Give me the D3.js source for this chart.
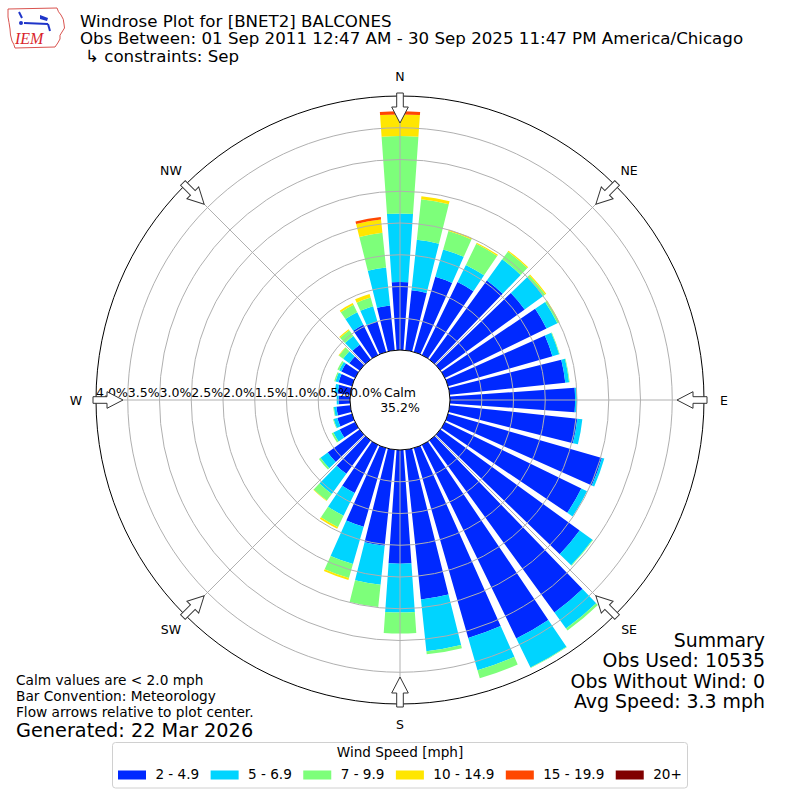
<!DOCTYPE html>
<html><head><meta charset="utf-8">
<script src="https://cdn.jsdelivr.net/npm/d3@7"></script>
<style>
body{margin:0;background:#fff}
svg{display:block}
text{font-family:"DejaVu Sans",sans-serif;fill:#000}
</style>
</head><body>
<svg id="chart" width="800" height="800"></svg>
<script>
// ---------------- data ----------------
const directions = [0,10,20,30,40,50,60,70,80,90,100,110,120,130,140,150,160,170,
                    180,190,200,210,220,230,240,250,260,270,280,290,300,310,320,330,340,350];
const speedBins = ["2 - 4.9","5 - 6.9","7 - 9.9","10 - 14.9","15 - 19.9","20+"];
const binColors = ["#0029ff","#00d4ff","#7dff7a","#ffe600","#ff4700","#800000"];
// percent frequency per direction, per speed bin
const spd2to5   = [1.07,0.95,1.23,1.28,1.54,1.64,1.78,1.71,1.83,1.97,2.02,2.52,2.39,2.71,3.35,3.39,3.11,2.37,
                   1.79,1.52,1.29,0.84,0.65,0.62,0.27,0.24,0.22,0.18,0.20,0.22,0.24,0.20,0.29,0.53,0.50,0.71];
const spd5to7   = [1.08,0.80,0.45,0.30,0.41,0.36,0.19,0.11,0.06,0.03,0.08,0.04,0.10,0.25,0.31,0.51,0.53,0.82,
                   0.77,0.62,0.61,0.40,0.39,0.14,0.11,0.06,0.04,0.03,0.05,0.05,0.04,0.12,0.17,0.22,0.25,0.60];
const spd7to10  = [1.22,0.64,0.30,0.37,0.15,0.04,0.03,0.01,0.01,0.00,0.00,0.00,0.00,0.01,0.04,0.01,0.13,0.05,
                   0.33,0.35,0.23,0.20,0.13,0.03,0.03,0.01,0.01,0.00,0.00,0.02,0.03,0.08,0.11,0.13,0.14,0.55];
const spd10to15 = [0.34,0.05,0.02,0.02,0.02,0.02,0.01,0.00,0.00,0.00,0.00,0.00,0.00,0.00,0.00,0.00,0.00,0.00,
                   0.00,0.00,0.03,0.03,0.01,0.00,0.00,0.00,0.00,0.00,0.00,0.00,0.00,0.01,0.02,0.03,0.06,0.21];
const spd15to20 = [0.05,0.00,0.00,0.00,0.00,0.00,0.00,0.00,0.00,0.00,0.00,0.00,0.00,0.00,0.00,0.00,0.00,0.00,
                   0.00,0.00,0.00,0.00,0.00,0.00,0.00,0.00,0.00,0.00,0.00,0.00,0.00,0.00,0.00,0.00,0.00,0.04];
const spd20up   = [0,0,0,0,0,0,0,0,0,0,0,0,0,0,0,0,0,0,0,0,0,0,0,0,0,0,0,0,0,0,0,0,0,0,0,0];
const calmPct = 35.2;
const rTicks = [0.0,0.5,1.0,1.5,2.0,2.5,3.0,3.5,4.0];
const compassNames = ["N","NE","E","SE","S","SW","W","NW"];
const compassAngles = [0,45,90,135,180,225,270,315];
const titleLines = ["Windrose Plot for [BNET2] BALCONES",
                    "Obs Between: 01 Sep 2011 12:47 AM - 30 Sep 2025 11:47 PM America/Chicago",
                    "\u21b3 constraints: Sep"];
const summaryLines = ["Summary","Obs Used: 10535","Obs Without Wind: 0","Avg Speed: 3.3 mph"];
const noteLines = ["Calm values are < 2.0 mph","Bar Convention: Meteorology","Flow arrows relative to plot center."];
const generated = "Generated: 22 Mar 2026";
const legendTitle = "Wind Speed [mph]";

// ---------------- build ----------------
const svg = d3.select("#chart");
const cx = 400, cy = 400;
const binSeries = [spd2to5, spd5to7, spd7to10, spd10to15, spd15to20, spd20up];
const keys = speedBins.map((d,i)=>"b"+i);
const table = directions.map((dir,i)=>{
  const row = {dir};
  keys.forEach((k,j)=>row[k]=binSeries[j][i]);
  return row;
});
const stacked = d3.stack().keys(keys)(table);

const r = d3.scaleLinear().domain([0,4]).range([50,304]);
const ang = d3.scaleLinear().domain([0,360]).range([0,2*Math.PI]);
const halfWidth = 4; // degrees

const g = svg.append("g").attr("transform",`translate(${cx},${cy})`);

// bars
const arc = d3.arc();
stacked.forEach((layer,li)=>{
  g.append("g").selectAll("path").data(layer).join("path")
    .attr("d", d => arc({
      innerRadius: r(d[0]), outerRadius: r(d[1]),
      startAngle: ang(d.data.dir - halfWidth), endAngle: ang(d.data.dir + halfWidth)
    }))
    .attr("fill", binColors[li])
    .attr("display", d => (d[1]-d[0]) > 0 ? null : "none");
});

// grid circles
g.append("g").selectAll("circle").data(rTicks.slice(1,-1)).join("circle")
  .attr("r", d=>r(d)).attr("fill","none").attr("stroke","#b0b0b0").attr("stroke-width",1);
// radial grid lines
g.append("g").selectAll("line").data(compassAngles).join("line")
  .attr("x1", d=>r(0)*Math.sin(ang(d))).attr("y1", d=>-r(0)*Math.cos(ang(d)))
  .attr("x2", d=>r(4)*Math.sin(ang(d))).attr("y2", d=>-r(4)*Math.cos(ang(d)))
  .attr("stroke","#b0b0b0").attr("stroke-width",1);

// calm circle
g.append("circle").attr("r", r(0)).attr("fill","#fff").attr("stroke","#000").attr("stroke-width",1);
// outer spine
g.append("circle").attr("r", r(4)).attr("fill","none").attr("stroke","#000").attr("stroke-width",1);

// radial labels at 180 deg (west)
g.append("g").selectAll("text").data(rTicks).join("text")
  .attr("x", d=>-r(d)).attr("y", -3)
  .attr("font-size","12.5px")
  .text(d=>d.toFixed(1)+"%");

// calm text
g.append("text").attr("x",0).attr("y",-3.5).attr("text-anchor","middle").attr("font-size","12.5px").text("Calm");
g.append("text").attr("x",0).attr("y",11.7).attr("text-anchor","middle").attr("font-size","12.5px").text(calmPct.toFixed(1)+"%");

// compass labels
g.append("g").selectAll("text").data(compassAngles).join("text")
  .attr("x", d=>324*Math.sin(ang(d))).attr("y", d=>-324*Math.cos(ang(d)))
  .attr("text-anchor","middle").attr("dominant-baseline","central")
  .attr("font-size","12.5px")
  .text((d,i)=>compassNames[i]);

// flow arrows
const arrowPts = [[-3.3,-307],[3.3,-307],[3.3,-293],[8.3,-293],[0,-277],[-8.3,-293],[-3.3,-293]];
g.append("g").selectAll("polygon").data(compassAngles).join("polygon")
  .attr("points", arrowPts.map(p=>p.join(",")).join(" "))
  .attr("transform", d=>`rotate(${d})`)
  .attr("fill","#fff").attr("stroke","#333").attr("stroke-width",1);

// title
const tl = svg.append("g");
tl.selectAll("text").data(titleLines).join("text")
  .attr("x",(d,i)=> i===2 ? 85 : 80)
  .attr("y",(d,i)=>26.5 + i*17.5)
  .attr("font-size","16.67px")
  .text(d=>d);

// logo
const logo = svg.append("g");
logo.append("path")
  .attr("d","M8,9 L57,8 Q58,12 61,15 Q64,19 64,24 Q66,28 62,32 Q59,35 60,39 Q58,43 55,47 L15,48 Q14,44 12,41 Q10,35 10,29 Q9,22 8,17 Z")
  .attr("fill","none").attr("stroke","#d9534f").attr("stroke-width",1);
logo.append("path").attr("d","M19,12 L22,18").attr("stroke","#1f35c9").attr("stroke-width",2).attr("fill","none");
logo.append("path").attr("d","M24,23 L48,24").attr("stroke","#1f35c9").attr("stroke-width",2).attr("fill","none");
logo.append("path").attr("d","M40,15 L48,18 L47,21 L40,19 Z").attr("fill","#1f35c9");
logo.append("path").attr("d","M48,24 L50,31").attr("stroke","#1f35c9").attr("stroke-width",2).attr("fill","none");
logo.append("circle").attr("cx",21).attr("cy",23).attr("r",2).attr("fill","#1f35c9");
logo.append("text").attr("x",15).attr("y",44).attr("font-size","16px")
  .style("font-family","'Liberation Serif',serif").style("font-style","italic").style("fill","#d9232b").text("IEM");

// summary
svg.append("g").selectAll("text").data(summaryLines).join("text")
  .attr("x",765).attr("y",(d,i)=>646.5+i*20.5).attr("text-anchor","end")
  .attr("font-size","18.9px").text(d=>d);

// notes
svg.append("g").selectAll("text").data(noteLines).join("text")
  .attr("x",16).attr("y",(d,i)=>685+i*16).attr("font-size","13.7px").text(d=>d);
svg.append("text").attr("x",16).attr("y",737).attr("font-size","19.3px").text(generated);

// legend
const lg = svg.append("g");
lg.append("rect").attr("x",112.5).attr("y",742.5).attr("width",575).attr("height",45.5).attr("rx",3)
  .attr("fill","#fff").attr("stroke","#d0d0d0").attr("stroke-width",1);
lg.append("text").attr("x",400).attr("y",757).attr("text-anchor","middle").attr("font-size","13.6px").text(legendTitle);
let lx = 118;
speedBins.forEach((lab,i)=>{
  lg.append("rect").attr("x",lx).attr("y",770.5).attr("width",28).attr("height",9).attr("fill",binColors[i]);
  const t = lg.append("text").attr("x",lx+37.4).attr("y",779).attr("font-size","13.6px").text(lab);
  lx += 37.4 + t.node().getComputedTextLength() + 11.4;
});
</script>
</body></html>
